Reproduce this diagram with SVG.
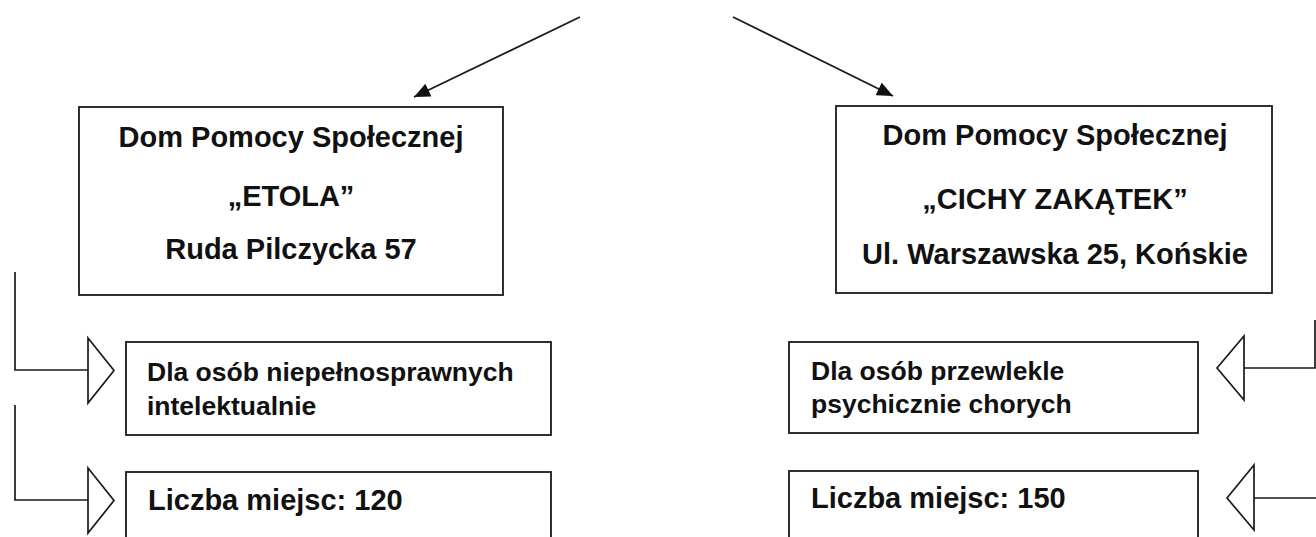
<svg xmlns="http://www.w3.org/2000/svg" width="1316" height="537" viewBox="0 0 1316 537">
<defs>
<marker id="ah" viewBox="0 0 16 14" refX="16" refY="7" markerWidth="16" markerHeight="14" markerUnits="userSpaceOnUse" orient="auto">
<path d="M0,0 L16,7 L0,14 z" fill="#111"/>
</marker>
<style>
.box{fill:#fff;stroke:#1a1a1a;stroke-width:1.8}
.ln{fill:none;stroke:#1a1a1a;stroke-width:1.7}
.tri{fill:#fff;stroke:#1a1a1a;stroke-width:1.7;stroke-linejoin:miter}
.big{font-family:"Liberation Sans",Arial,sans-serif;font-weight:bold;font-size:29px;fill:#111;text-anchor:middle}
.sm{font-family:"Liberation Sans",Arial,sans-serif;font-weight:bold;font-size:26.5px;fill:#111}
.num{font-family:"Liberation Sans",Arial,sans-serif;font-weight:bold;font-size:29px;fill:#111}
</style>
</defs>
<rect width="1316" height="537" fill="#fff"/>
<g id="connectors">
<path class="ln" d="M580,17 L414,97" marker-end="url(#ah)"/>
<path class="ln" d="M733,17 L893,96" marker-end="url(#ah)"/>
<path class="ln" d="M15,272 V370 H88"/>
<polygon class="tri" points="88,338 114,370.5 88,403"/>
<path class="ln" d="M15,405 V500 H88"/>
<polygon class="tri" points="88,468 114,500.5 88,533"/>
<path class="ln" d="M1315,320 V368 H1244"/>
<polygon class="tri" points="1244,336 1217,368 1244,400"/>
<path class="ln" d="M1316,498 H1254"/>
<polygon class="tri" points="1254,465 1227,498 1254,530"/>
</g>
<g id="dps-etola">
<rect class="box" x="79" y="107" width="424" height="188"/>
<text class="big" x="291" y="147" textLength="345" lengthAdjust="spacing">Dom Pomocy Społecznej</text>
<text class="big" x="291" y="206">„ETOLA”</text>
<text class="big" x="291" y="259">Ruda Pilczycka 57</text>
</g>
<g id="dps-cichy-zakatek">
<rect class="box" x="836" y="106" width="436" height="187"/>
<text class="big" x="1055" y="145" textLength="345" lengthAdjust="spacing">Dom Pomocy Społecznej</text>
<text class="big" x="1055" y="209">„CICHY ZAKĄTEK”</text>
<text class="big" x="1055" y="264">Ul. Warszawska 25, Końskie</text>
</g>
<g id="etola-profile">
<rect class="box" x="126" y="342" width="425" height="93"/>
<text class="sm" x="147" y="381">Dla osób niepełnosprawnych</text>
<text class="sm" x="147" y="415">intelektualnie</text>
</g>
<g id="etola-places">
<rect class="box" x="126" y="472" width="425" height="80"/>
<text class="num" x="148" y="510">Liczba miejsc: 120</text>
</g>
<g id="cichy-profile">
<rect class="box" x="789" y="342" width="409" height="91"/>
<text class="sm" x="811" y="380">Dla osób przewlekle</text>
<text class="sm" x="811" y="413">psychicznie chorych</text>
</g>
<g id="cichy-places">
<rect class="box" x="789" y="471" width="409" height="80"/>
<text class="num" x="811" y="508">Liczba miejsc: 150</text>
</g>
</svg>
